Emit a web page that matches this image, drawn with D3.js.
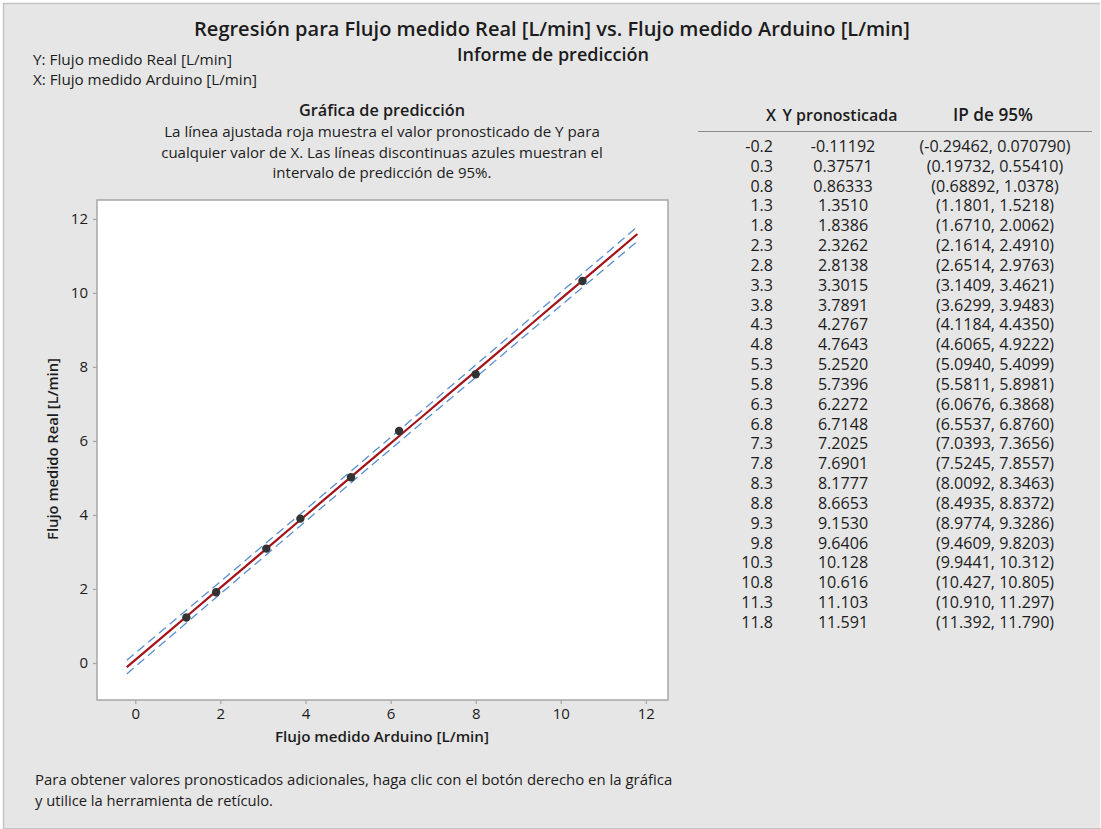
<!DOCTYPE html>
<html>
<head>
<meta charset="utf-8">
<script src="https://cdn.jsdelivr.net/npm/d3@7"></script>
<style>
  body { margin: 0; background: #ffffff; }
  text { font-family: "Open Sans", "Noto Sans", sans-serif; fill: #1c1c1c; }
</style>
</head>
<body>
<svg id="chart" width="1101" height="829"></svg>
<script>
// Observed data pairs (Arduino reading vs. real flow)
const obsX = [1.20, 1.90, 3.08, 3.88, 5.07, 6.20, 8.00, 10.51];
const obsY = [1.23, 1.91, 3.09, 3.90, 5.02, 6.27, 7.80, 10.32];

// Prediction table
const predX = [-0.2, 0.3, 0.8, 1.3, 1.8, 2.3, 2.8, 3.3, 3.8, 4.3, 4.8, 5.3, 5.8, 6.3, 6.8, 7.3, 7.8, 8.3, 8.8, 9.3, 9.8, 10.3, 10.8, 11.3, 11.8];
const predY = [-0.11192, 0.37571, 0.86333, 1.3510, 1.8386, 2.3262, 2.8138, 3.3015, 3.7891, 4.2767, 4.7643, 5.2520, 5.7396, 6.2272, 6.7148, 7.2025, 7.6901, 8.1777, 8.6653, 9.1530, 9.6406, 10.128, 10.616, 11.103, 11.591];
const piLow = [-0.29462, 0.19732, 0.68892, 1.1801, 1.6710, 2.1614, 2.6514, 3.1409, 3.6299, 4.1184, 4.6065, 5.0940, 5.5811, 6.0676, 6.5537, 7.0393, 7.5245, 8.0092, 8.4935, 8.9774, 9.4609, 9.9441, 10.427, 10.910, 11.392];
const piHigh = [0.070790, 0.55410, 1.0378, 1.5218, 2.0062, 2.4910, 2.9763, 3.4621, 3.9483, 4.4350, 4.9222, 5.4099, 5.8981, 6.3868, 6.8760, 7.3656, 7.8557, 8.3463, 8.8372, 9.3286, 9.8203, 10.312, 10.805, 11.297, 11.790];

// Axis ticks
const xTicks = [0, 2, 4, 6, 8, 10, 12];
const yTicks = [0, 2, 4, 6, 8, 10, 12];

const svg = d3.select("#chart");

// helper: scale a text's font size so it spans a given width
function fitWidth(sel, w) {
  sel.each(function () {
    const cur = parseFloat(this.getAttribute("font-size"));
    const len = this.getComputedTextLength();
    if (len > 0) this.setAttribute("font-size", (cur * w / len).toFixed(2));
  });
  return sel;
}

// Background panel
svg.append("rect").attr("x", 3).attr("y", 3).attr("width", 1097).attr("height", 825)
  .attr("fill", "#e6e6e6");
svg.append("path").attr("d", "M3.5,828 V3.5 H1100")
  .attr("fill", "none").attr("stroke", "#c4c4c4").attr("stroke-width", 1.5);
svg.append("line").attr("x1", 3).attr("x2", 1101).attr("y1", 828.5).attr("y2", 828.5)
  .attr("stroke", "#c4c4c4");

// Titles
fitWidth(svg.append("text").attr("x", 552).attr("y", 36).attr("text-anchor", "middle")
  .attr("font-size", 18).attr("font-weight", 600)
  .text("Regresión para Flujo medido Real [L/min] vs. Flujo medido Arduino [L/min]"), 716);
fitWidth(svg.append("text").attr("x", 553).attr("y", 61).attr("text-anchor", "middle")
  .attr("font-size", 16).attr("font-weight", 600)
  .text("Informe de predicción"), 192);
fitWidth(svg.append("text").attr("x", 33).attr("y", 65)
  .attr("font-size", 13).text("Y: Flujo medido Real [L/min]"), 199);
fitWidth(svg.append("text").attr("x", 33).attr("y", 85)
  .attr("font-size", 13).text("X: Flujo medido Arduino [L/min]"), 224);

// Plot description
fitWidth(svg.append("text").attr("x", 382).attr("y", 116).attr("text-anchor", "middle")
  .attr("font-size", 14).attr("font-weight", 600).text("Gráfica de predicción"), 166);
const desc = [
  "La línea ajustada roja muestra el valor pronosticado de Y para",
  "cualquier valor de X. Las líneas discontinuas azules muestran el",
  "intervalo de predicción de 95%."
];
const descW = [436, 442, 219];
desc.forEach((t, i) => {
  fitWidth(svg.append("text").attr("x", 382).attr("y", 137 + i * 20.5).attr("text-anchor", "middle")
    .attr("font-size", 14).text(t), descW[i]);
});

// Plot area
const pL = 97, pR = 668, pT = 200, pB = 700;
const x = d3.scaleLinear().domain([-0.9, 12.52]).range([pL, pR]);
const y = d3.scaleLinear().domain([-1.0, 12.51]).range([pB, pT]);

svg.append("rect").attr("x", pL).attr("y", pT).attr("width", pR - pL).attr("height", pB - pT)
  .attr("fill", "#ffffff").attr("stroke", "#a6a6a6").attr("stroke-width", 1.5);

const xAxis = svg.append("g").attr("transform", `translate(0,${pB})`)
  .call(d3.axisBottom(x).tickValues(xTicks).tickSize(4).tickPadding(4).tickFormat(d3.format("d")));
const yAxis = svg.append("g").attr("transform", `translate(${pL},0)`)
  .call(d3.axisLeft(y).tickValues(yTicks).tickSize(4).tickPadding(5).tickFormat(d3.format("d")));
[xAxis, yAxis].forEach(g => {
  g.select(".domain").remove();
  g.selectAll(".tick line").attr("stroke", "#a6a6a6").attr("stroke-width", 1.2);
  g.selectAll(".tick text").attr("font-family", "'Open Sans', sans-serif").attr("font-size", 15)
    .attr("font-weight", 500).attr("fill", "#1c1c1c");
});

fitWidth(svg.append("text").attr("x", 382).attr("y", 742).attr("text-anchor", "middle")
  .attr("font-size", 14).attr("font-weight", 600).text("Flujo medido Arduino [L/min]"), 214);
fitWidth(svg.append("text").attr("transform", "translate(58,449) rotate(-90)").attr("text-anchor", "middle")
  .attr("font-size", 14).attr("font-weight", 600).text("Flujo medido Real [L/min]"), 182);

// Prediction interval (dashed) and fitted line
const idx = d3.range(predX.length);
const lineOf = arr => d3.line().x(i => x(predX[i])).y(i => y(arr[i]))(idx);
[piLow, piHigh].forEach(arr => {
  svg.append("path").attr("d", lineOf(arr)).attr("fill", "none")
    .attr("stroke", "#5a8fcf").attr("stroke-width", 1.3).attr("stroke-dasharray", "9,5");
});
svg.append("path").attr("d", lineOf(predY)).attr("fill", "none")
  .attr("stroke", "#a3141a").attr("stroke-width", 2.2);

// Observations
svg.append("g").selectAll("circle").data(obsX).join("circle")
  .attr("cx", d => x(d)).attr("cy", (d, i) => y(obsY[i])).attr("r", 4.2)
  .attr("fill", "#333333");

// Prediction table
const fmtG = v => d3.format(".5g")(v).replace("\u2212", "-");
const fmtX = v => d3.format(".1f")(v).replace("\u2212", "-");
const tbl = svg.append("g");
fitWidth(tbl.append("text").attr("x", 776).attr("y", 121).attr("text-anchor", "end")
  .attr("font-size", 14.5).attr("font-weight", 600).text("X"), 10);
fitWidth(tbl.append("text").attr("x", 840).attr("y", 121).attr("text-anchor", "middle")
  .attr("font-size", 14.5).attr("font-weight", 600).text("Y pronosticada"), 115);
fitWidth(tbl.append("text").attr("x", 993).attr("y", 121).attr("text-anchor", "middle")
  .attr("font-size", 14.5).attr("font-weight", 600).text("IP de 95%"), 80);
tbl.append("line").attr("x1", 698).attr("x2", 1092).attr("y1", 131.5).attr("y2", 131.5)
  .attr("stroke", "#8c8c8c").attr("stroke-width", 1);

const rowY = i => 152 + i * 19.83;
const cells = [];
cells.push(tbl.selectAll("text.cx").data(predX).join("text").attr("class", "cx")
  .attr("x", 773).attr("y", (d, i) => rowY(i)).attr("text-anchor", "end").text(fmtX));
cells.push(tbl.selectAll("text.cy").data(predY).join("text").attr("class", "cy")
  .attr("x", 843).attr("y", (d, i) => rowY(i)).attr("text-anchor", "middle").text(fmtG));
const ciCells = tbl.selectAll("text.ci").data(piLow).join("text").attr("class", "ci")
  .attr("x", 995).attr("y", (d, i) => rowY(i)).attr("text-anchor", "middle")
  .text((d, i) => `(${fmtG(d)}, ${fmtG(piHigh[i])})`);
cells.push(ciCells);
// size all table cells so the widest interval entry spans 151 px
cells.forEach(c => c.attr("font-size", 13.5));
const firstLen = ciCells.node().getComputedTextLength();
const cellSize = (13.5 * 151 / firstLen).toFixed(2);
cells.forEach(c => c.attr("font-size", cellSize));

// Footer note
fitWidth(svg.append("text").attr("x", 35).attr("y", 785).attr("font-size", 13.5)
  .text("Para obtener valores pronosticados adicionales, haga clic con el botón derecho en la gráfica"), 638);
fitWidth(svg.append("text").attr("x", 35).attr("y", 806).attr("font-size", 13.5)
  .text("y utilice la herramienta de retículo."), 238);
</script>
</body>
</html>
